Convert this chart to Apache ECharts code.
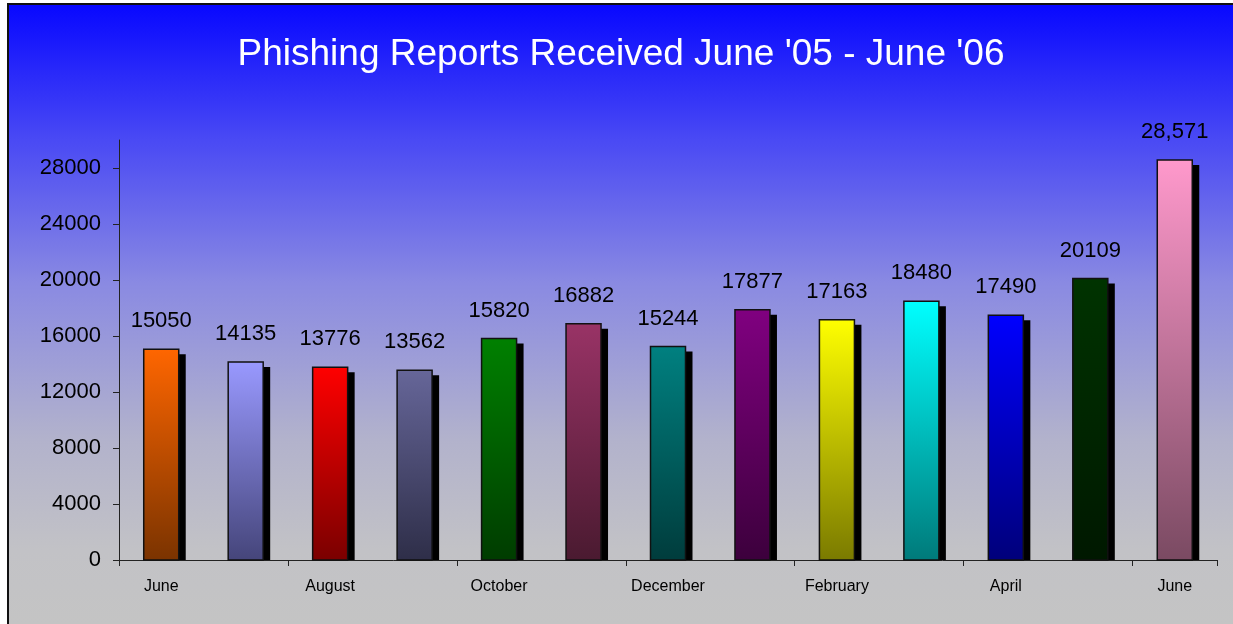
<!DOCTYPE html>
<html lang="en">
<head>
    <meta charset="UTF-8">
    <title>Phishing Reports</title>
    <script src="https://cdn.jsdelivr.net/npm/echarts@6/dist/echarts.min.js"></script>
    <style type="text/css">
        *{margin: 0;padding: 0;}
        html,body{width: 100%;height: 100%;overflow: hidden;background: #fff;}
        #main{position: absolute;left: 7px;top: 3px;width: 1224px;height: 619px;border-left: 2px solid #111;border-top: 2px solid #111;}
    </style>
</head>
<body>
<div id="main"></div>
<script type="text/javascript">
    // months June '05 .. June '06
    var months = ['June', 'July', 'August', 'September', 'October', 'November', 'December',
                  'January', 'February', 'March', 'April', 'May', 'June'];
    var reports = [15050, 14135, 13776, 13562, 15820, 16882, 15244, 17877, 17163, 18480, 17490, 20109, 28571];
    var yTicks = [0, 4000, 8000, 12000, 16000, 20000, 24000, 28000];

    // bar fill: top colour -> bottom colour
    var barTop = ['#ff6600', '#9999ff', '#ff0000', '#666699', '#008000', '#993366', '#008080',
                  '#800080', '#ffff00', '#00ffff', '#0000ff', '#003300', '#ff99cc'];
    var barBottom = ['#7a3300', '#45457a', '#7a0000', '#2e2e48', '#003c00', '#4a1a30', '#003c3c',
                     '#3c003c', '#7a7a00', '#007a7a', '#00007a', '#001800', '#7a4a62'];

    var myChart = echarts.init(document.getElementById('main'));

    function labelText(i) {
        // last value is written with a thousands separator in the original
        if (i === reports.length - 1) return reports[i].toLocaleString('en-US');
        return String(reports[i]);
    }

    function renderBar(params, api) {
        var i = params.dataIndex;
        var top = api.coord([api.value(0), api.value(1)]);
        var base = api.coord([api.value(0), 0]);
        var w = 35;
        var h = base[1] - top[1];
        return {
            type: 'group',
            children: [
                {   // drop shadow
                    type: 'rect',
                    shape: {x: top[0] - w / 2 + 7, y: top[1] + 5, width: w, height: h - 5},
                    style: {fill: '#000'}
                },
                {
                    type: 'rect',
                    shape: {x: top[0] - w / 2, y: top[1], width: w, height: h},
                    style: {
                        fill: new echarts.graphic.LinearGradient(0, 0, 0, 1, [
                            {offset: 0, color: barTop[i]},
                            {offset: 1, color: barBottom[i]}
                        ]),
                        stroke: '#111',
                        lineWidth: 1.5
                    }
                },
                {
                    type: 'text',
                    x: top[0],
                    y: top[1] - 28,
                    style: {
                        text: labelText(i),
                        fill: '#000',
                        font: '22px "Liberation Sans", Arial, sans-serif',
                        align: 'center',
                        verticalAlign: 'middle'
                    }
                }
            ]
        };
    }

    var option = {
        backgroundColor: new echarts.graphic.LinearGradient(0, 0, 0, 1, [
            {offset: 0, color: '#0808ff'},
            {offset: 0.22, color: '#4a4af4'},
            {offset: 0.45, color: '#8a8ae2'},
            {offset: 0.7, color: '#b2b2cc'},
            {offset: 0.88, color: '#c2c2c6'},
            {offset: 1, color: '#c4c4c4'}
        ]),
        textStyle: {fontFamily: '"Liberation Sans", Arial, sans-serif'},
        title: {
            text: "Phishing Reports Received June '05 - June '06",
            left: 'center',
            top: 26,
            textStyle: {
                color: '#fff',
                fontSize: 37,
                fontWeight: 'normal',
                fontFamily: '"Liberation Sans", Arial, sans-serif'
            }
        },
        grid: {
            left: 110,
            right: 16,
            top: 135,
            bottom: 64,
            containLabel: false
        },
        xAxis: {
            type: 'category',
            data: months,
            boundaryGap: true,
            axisLine: {lineStyle: {color: '#222', width: 1}},
            axisTick: {show: true, length: 6, lineStyle: {color: '#222'}},
            axisLabel: {
                interval: 1,
                color: '#000',
                fontSize: 16,
                margin: 19
            },
            splitLine: {show: false}
        },
        yAxis: {
            type: 'value',
            min: 0,
            max: 30000,
            axisLine: {show: true, lineStyle: {color: '#222', width: 1}},
            axisTick: {show: true, length: 6, lineStyle: {color: '#222'}, customValues: yTicks},
            axisLabel: {
                color: '#000',
                fontSize: 22,
                margin: 18,
                customValues: yTicks,
                formatter: function (v) { return String(v); }
            },
            splitLine: {show: false}
        },
        series: [
            {
                type: 'custom',
                renderItem: renderBar,
                data: reports.map(function (v, i) { return [i, v]; }),
                clip: false
            }
        ]
    };
    myChart.setOption(option);
</script>
</body>
</html>
